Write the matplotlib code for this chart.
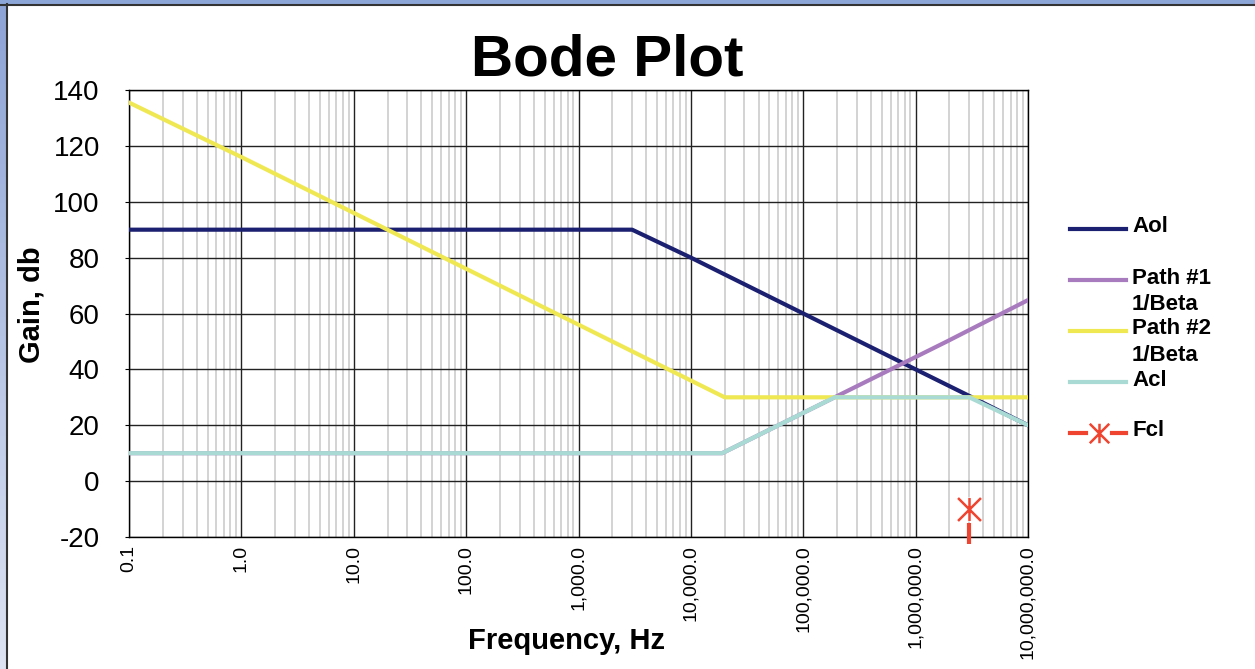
import numpy as np
import matplotlib
matplotlib.use("Agg")
import matplotlib.pyplot as plt
from matplotlib.lines import Line2D
from matplotlib.patches import Rectangle
from matplotlib.path import Path
from matplotlib.ticker import FixedLocator, FuncFormatter, LogLocator, NullFormatter

plt.rcParams['font.family'] = ['Liberation Sans', 'DejaVu Sans']
plt.rcParams['axes.unicode_minus'] = False

# data (freq in Hz, gain in dB)
aol_f = [0.1, 3000, 1e4, 1e5, 1e6, 3e6, 1e7]
aol_db = [90, 90, 80, 60, 40, 30.5, 20]

path1_f = [0.1, 1.9e4, 1.9e5, 1.9e6, 1e7]
path1_db = [10, 10, 30, 50, 64.8]

path2_f = [0.1, 1, 10, 100, 1e3, 1e4, 2e4, 1e7]
path2_db = [135.5, 116, 96, 76, 56, 36, 30, 30]

acl_f = [0.1, 1.9e4, 1.9e5, 3e6, 1e7]
acl_db = [10, 10, 30, 30, 20]

fcl_f = [3e6]
fcl_db = [-10]
fcl_bar = [-15, -22.5]

xticks = [0.1, 1, 10, 100, 1e3, 1e4, 1e5, 1e6, 1e7]
yticks = [-20, 0, 20, 40, 60, 80, 100, 120, 140]

c_aol = '#1c2070'
c_p1 = '#a77bbd'
c_p2 = '#efe853'
c_acl = '#a9dbd4'
c_fcl = '#ef4430'

# excel style star: vertical stroke plus an X
star = Path([(0, -1), (0, 1), (-1, -1), (1, 1), (-1, 1), (1, -1)],
            [Path.MOVETO, Path.LINETO, Path.MOVETO, Path.LINETO, Path.MOVETO, Path.LINETO])

W, H = 1255, 669
fig = plt.figure(figsize=(W / 100, H / 100), dpi=100)
fig.patch.set_facecolor('white')

ax = fig.add_axes([129 / W, 1 - 537 / H, (1028 - 129) / W, (537 - 90) / H])
ax.set_xscale('log')
ax.set_xlim(0.1, 1e7)
ax.set_ylim(-20, 140)

lw = 3.0
ax.plot(aol_f, aol_db, color=c_aol, lw=lw, zorder=3)
ax.plot(path1_f, path1_db, color=c_p1, lw=lw, zorder=3)
ax.plot(path2_f, path2_db, color=c_p2, lw=lw, zorder=3)
ax.plot(acl_f, acl_db, color=c_acl, lw=lw, zorder=3)

# Fcl point: white box behind the star, plus the red bar under it
ax.plot(fcl_f, fcl_db, marker='s', ms=17, mfc='white', mec='none', ls='none', zorder=4, clip_on=False)
ax.plot(fcl_f, fcl_db, marker=star, ms=16.5, mec=c_fcl, mew=1.8, ls='none', zorder=5, clip_on=False)
ax.plot([fcl_f[0], fcl_f[0]], fcl_bar, color=c_fcl, lw=3, zorder=5, clip_on=False, solid_capstyle='butt')

# grid
ax.xaxis.set_major_locator(FixedLocator(xticks))
ax.xaxis.set_minor_locator(LogLocator(base=10, subs=np.arange(2, 10), numticks=20))
ax.xaxis.set_minor_formatter(NullFormatter())
ax.set_yticks(yticks)
ax.grid(which='major', axis='both', color='#222222', lw=1.0, zorder=1)
ax.grid(which='minor', axis='x', color='#cccccc', lw=1.2, zorder=0)
ax.set_axisbelow(True)

def fmt(v, pos):
    if v < 1:
        return '%.1f' % v
    return '{:,.1f}'.format(v)

ax.xaxis.set_major_formatter(FuncFormatter(fmt))
ax.tick_params(axis='x', which='both', length=0, pad=6, labelsize=14, labelrotation=90)
ax.tick_params(axis='y', length=3, pad=18, labelsize=20)
for s in ax.spines.values():
    s.set_color('black')
    s.set_linewidth(1.0)

# texts
fig.text(607 / W, 1 - 75 / H, 'Bode Plot', fontsize=42, fontweight='bold', ha='center', va='baseline')
fig.text(566 / W, 1 - 641 / H, 'Frequency, Hz', fontsize=21, fontweight='bold', ha='center', va='center')
fig.text(32 / W, 1 - 305 / H, 'Gain, db', fontsize=21, fontweight='bold', ha='center', va='center', rotation=90)

# legend drawn by hand
x0, x1, xt = 1070 / W, 1126 / W, 1132 / W
entries = [
    (229, c_aol, ['Aol']),
    (280, c_p1, ['Path #1', '1/Beta']),
    (331, c_p2, ['Path #2', '1/Beta']),
    (382, c_acl, ['Acl']),
]
for yp, col, lines in entries:
    y = 1 - yp / H
    fig.add_artist(Line2D([x0, x1], [y, y], color=col, lw=lw, transform=fig.transFigure))
    for i, t in enumerate(lines):
        fig.text(xt, 1 - (yp - 2 + 26 * i) / H, t, fontsize=16, fontweight='bold', ha='left', va='center')

yf = 1 - 433 / H
fig.add_artist(Line2D([x0, 1086 / W], [yf, yf], color=c_fcl, lw=lw, transform=fig.transFigure))
fig.add_artist(Line2D([1112 / W, x1], [yf, yf], color=c_fcl, lw=lw, transform=fig.transFigure))
fig.add_artist(Line2D([1099 / W], [yf], marker=star, ms=14, mec=c_fcl, mew=1.8, ls='none', transform=fig.transFigure))
fig.text(xt, 1 - 431 / H, 'Fcl', fontsize=16, fontweight='bold', ha='left', va='center')

# window frame: blue band on top and left edge with a dark line inside
fig.add_artist(Rectangle((0, 1 - 4 / H), 1, 4 / H, color='#8ca6d8', transform=fig.transFigure, lw=0))
fig.add_artist(Line2D([0, 1], [1 - 4.5 / H, 1 - 4.5 / H], color='#333333', lw=1.5, transform=fig.transFigure))
band = fig.add_axes([0, 0, 6 / W, 1 - 4 / H])
band.imshow(np.linspace(0, 1, 100).reshape(-1, 1), aspect='auto', cmap=matplotlib.colors.LinearSegmentedColormap.from_list('b', ['#8ea4d6', '#dde3f2']))
band.axis('off')
fig.add_artist(Line2D([6.5 / W, 6.5 / W], [0, 1 - 4 / H], color='#333333', lw=1.5, transform=fig.transFigure))

fig.savefig('out.png', dpi=100)
